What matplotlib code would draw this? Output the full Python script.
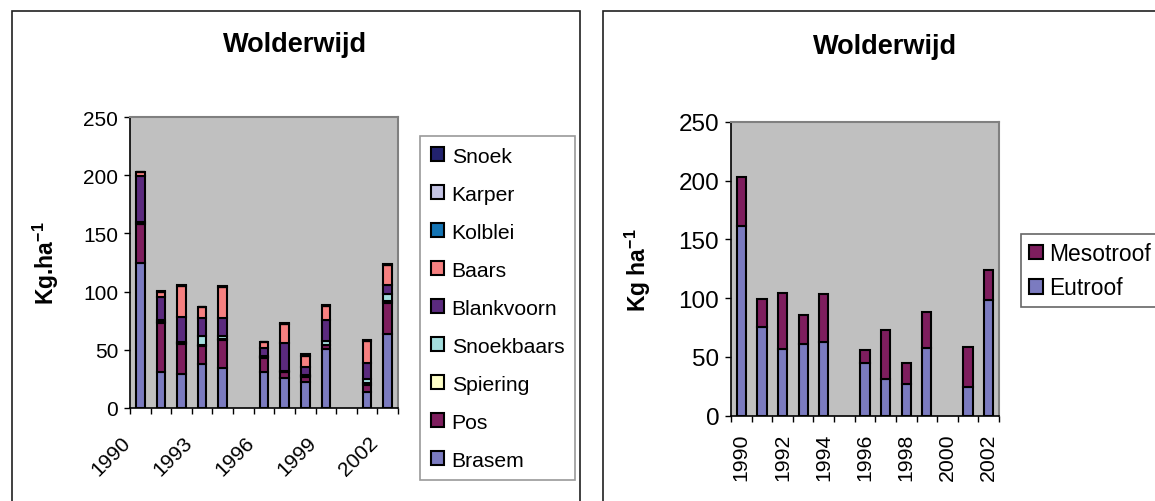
import numpy as np
import matplotlib
matplotlib.use('agg')
import matplotlib.pyplot as plt
from matplotlib.patches import Rectangle
from matplotlib.transforms import ScaledTranslation

plt.rcParams['font.family'] = ['Liberation Sans', 'DejaVu Sans']
plt.rcParams['mathtext.fontset'] = 'custom'
plt.rcParams['mathtext.rm'] = 'Liberation Sans'
plt.rcParams['mathtext.bf'] = 'Liberation Sans:bold'
plt.rcParams['mathtext.default'] = 'regular'

nan = np.nan
years = [str(y) for y in range(1990, 2003)]

# kg/ha per soort (1995 en 2000 geen bemonstering)
brasem     = [125, 31, 29, 37.5, 34, nan, 31, 25.5, 22, 51, nan, 13.5, 63.5]
pos        = [33, 42, 26, 16, 24, nan, 12, 5, 5, 3, nan, 6.5, 27]
spiering   = [0.5, 1, 1, 1, 1, nan, 0.5, 0.5, 0.5, 0.5, nan, 1.5, 1]
snoekbaars = [1, 2, 1, 7, 3, nan, 1, 1, 0.5, 3, nan, 3, 6.5]
blankvoorn = [40, 19, 21, 16, 15, nan, 7, 24, 7, 18, nan, 14, 8]
baars      = [3, 5, 27, 9, 27, nan, 5, 16, 10, 12, nan, 19, 17]
kolblei    = [0, 0, 0, 0, 0, nan, 0, 0, 0, 0, nan, 0, 0]
karper     = [0, 0, 0, 0, 0, nan, 0, 0, 0, 0, nan, 0, 0]
snoek      = [0.5, 0.5, 0.5, 0.5, 0.5, nan, 0.5, 1, 1, 1, nan, 0.5, 1]

eutroof   = [161, 75.5, 56.5, 61, 62.5, nan, 44.5, 31, 27, 57.5, nan, 24.5, 98]
mesotroof = [42, 24, 47.5, 24.5, 41, nan, 11.5, 42, 18, 30.5, nan, 33.5, 26]

species = [('Brasem', brasem, '#7B7BC0'),
           ('Pos', pos, '#7E1E5E'),
           ('Spiering', spiering, '#FFFFC8'),
           ('Snoekbaars', snoekbaars, '#A4DEDE'),
           ('Blankvoorn', blankvoorn, '#5B2A7E'),
           ('Baars', baars, '#F68080'),
           ('Kolblei', kolblei, '#1474B4'),
           ('Karper', karper, '#C4C4E4'),
           ('Snoek', snoek, '#22226E')]

W, H = 1155, 502
fig = plt.figure(figsize=(W / 100, H / 100), dpi=100)

def px(x0, y_top, w, h):
    return [x0 / W, (H - y_top - h) / H, w / W, h / H]

# panel frames
fig.patches.append(Rectangle((12 / W, -0.05), (580 - 12) / W, (H - 12) / H + 0.05,
                             transform=fig.transFigure, fill=False,
                             edgecolor='#202020', linewidth=1.2))
fig.patches.append(Rectangle((603 / W, -0.05), 0.5, (H - 12) / H + 0.05,
                             transform=fig.transFigure, fill=False,
                             edgecolor='#202020', linewidth=1.2))

def style_axes(ax, ysize):
    ax.set_facecolor('#C0C0C0')
    ax.set_xlim(-0.5, 12.5)
    ax.set_ylim(0, 250)
    ax.set_yticks(range(0, 251, 50))
    for s in ['top', 'right']:
        ax.spines[s].set_color('#808080')
        ax.spines[s].set_linewidth(1.5)
    for s in ['left', 'bottom']:
        ax.spines[s].set_color('black')
        ax.spines[s].set_linewidth(1.2)
    ax.tick_params(axis='y', direction='out', length=4.5, width=1, labelsize=ysize, pad=4)
    ax.tick_params(axis='x', which='major', direction='out', length=4.5, width=1)

x = np.arange(len(years))
edge = dict(edgecolor='black', linewidth=1.5)

# left: per soort
ax1 = fig.add_axes(px(130, 118, 268, 291))
style_axes(ax1, 15)
bottom = np.zeros(len(years))
handles = []
for name, vals, col in species:
    v = np.array(vals, dtype=float)
    b = ax1.bar(x, v, 0.42, bottom=bottom, color=col, label=name, **edge)
    handles.append(b)
    bottom = bottom + v
bounds = np.arange(len(years) + 1) - 0.5
ax1.set_xticks(bounds)
ax1.set_xticklabels([years[i] if (i < len(years) and i % 3 == 0) else '' for i in range(len(bounds))],
                    rotation=45, ha='right', va='top', rotation_mode='anchor', fontsize=15)
ax1.tick_params(axis='x', pad=13)
shift = ScaledTranslation(-9 / 100, 0, fig.dpi_scale_trans)
for lbl in ax1.get_xticklabels():
    lbl.set_transform(lbl.get_transform() + shift)
ax1.set_ylabel(r'Kg.ha$^{-1}$', fontsize=16.5, fontweight='bold')
ax1.yaxis.set_label_coords(-0.257, 0.5)
fig.text(295 / W, 1 - 45 / H, 'Wolderwijd', ha='center', va='center',
         fontsize=19.5, fontweight='bold')
fig.legend(handles[::-1], [s[0] for s in species][::-1],
           loc='upper left', bbox_to_anchor=(420 / W, 1 - 137 / H),
           bbox_transform=fig.transFigure, borderaxespad=0,
           fontsize=15.2, frameon=True, fancybox=False, edgecolor='#808080',
           handlelength=0.65, handleheight=0.65, handletextpad=0.35,
           labelspacing=0.9, borderpad=0.5).get_frame().set_linewidth(1.2)

# right: eutroof / mesotroof
ax2 = fig.add_axes(px(731, 122.7, 268, 294))
style_axes(ax2, 17.5)
e = np.array(eutroof, dtype=float)
m = np.array(mesotroof, dtype=float)
be = ax2.bar(x, e, 0.45, color='#7B7BC0', label='Eutroof', **edge)
bm = ax2.bar(x, m, 0.45, bottom=e, color='#7E1E5E', label='Mesotroof', **edge)
ax2.set_xticks(bounds)
ax2.set_xticklabels([])
ax2.set_xticks(x[::2], minor=True)
ax2.set_xticklabels(years[::2], minor=True, rotation=90, fontsize=15.3)
ax2.tick_params(axis='x', which='minor', length=0, pad=12)
ax2.set_ylabel(r'Kg ha$^{-1}$', fontsize=16.5, fontweight='bold')
ax2.yaxis.set_label_coords(-0.29, 0.5)
fig.text(885 / W, 1 - 47 / H, 'Wolderwijd', ha='center', va='center',
         fontsize=19.5, fontweight='bold')
fig.legend([bm, be], ['Mesotroof', 'Eutroof'],
           loc='upper left', bbox_to_anchor=(1021 / W, 1 - 235 / H),
           bbox_transform=fig.transFigure, borderaxespad=0,
           fontsize=16.4, frameon=True, fancybox=False, edgecolor='#404040',
           handlelength=0.6, handleheight=0.6, handletextpad=0.3,
           labelspacing=0.5, borderpad=0.35).get_frame().set_linewidth(1.2)

fig.savefig('out.png', dpi=100)
